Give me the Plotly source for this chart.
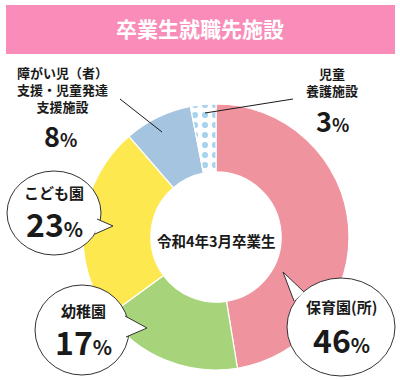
import plotly.graph_objects as go

# ---- data ----
categories = ["保育園(所)", "幼稚園", "こども園", "障がい児（者）支援・児童発達支援施設", "児童養護施設"]
values = [46, 17, 23, 8, 3]
title_text = "卒業生就職先施設"
center_text = "令和4年3月卒業生"

colors = ["#EF939F", "#A7D47B", "#FDE84F", "#A4C4DF", "#FFFFFF"]
patterns = ["", "", "", "", "."]

W, H = 400, 380
FONT = "Noto Sans CJK JP"
INK = "#1a1a1a"


def px(x):
    return x / W


def py(y):
    return 1 - y / H


cx, cy, R = 216, 237, 133

fig = go.Figure()
fig.add_trace(go.Pie(
    labels=categories,
    values=values,
    sort=False,
    direction="clockwise",
    rotation=0,
    hole=0.49,
    marker=dict(
        colors=colors,
        line=dict(color="white", width=1.2),
        pattern=dict(shape=patterns, fgcolor="#4FA8E0", bgcolor="white",
                     size=10, solidity=0.3, fillmode="overlay"),
    ),
    textinfo="none",
    hoverinfo="label+value",
    showlegend=False,
    domain=dict(x=[px(cx - R), px(cx + R)], y=[py(cy + R), py(cy - R)]),
))

shapes = []
annotations = []


def label(text, x, y, size, color=INK):
    annotations.append(dict(text=text, x=px(x), y=py(y), xref="paper", yref="paper",
                            xanchor="center", yanchor="middle",
                            showarrow=False, font=dict(family=FONT, size=size, color=color)))


# title banner
shapes.append(dict(type="rect", xref="paper", yref="paper",
                   x0=px(6), x1=px(395), y0=py(54), y1=py(5),
                   fillcolor="#F98CB9", line=dict(width=0), layer="below"))
label(f"<b>{title_text}</b>", 200, 28, 21, "white")

# center text
label(f"<b>{center_text}</b>", cx, 240, 14.5)


def pct(v, small):
    return f"<b>{v}<span style='font-size:{small}px'>%</span></b>"


def bubble(bx, by, rx, ry, a, tip, b):
    shapes.append(dict(type="circle", xref="paper", yref="paper",
                       x0=px(bx - rx), x1=px(bx + rx), y0=py(by + ry), y1=py(by - ry),
                       fillcolor="white", line=dict(color="#333333", width=1)))
    path = (f"M {px(a[0])},{py(a[1])} L {px(tip[0])},{py(tip[1])} "
            f"L {px(b[0])},{py(b[1])}")
    shapes.append(dict(type="path", xref="paper", yref="paper", path=path,
                       fillcolor="white", line=dict(color="#333333", width=1)))


# こども園 bubble
bubble(54, 213, 47, 42, (97, 219), (113, 226), (95, 234))
label(f"<b>{categories[2]}</b>", 54, 192, 15)
label(pct(values[2], 20), 54, 223, 32)

# 幼稚園 bubble
bubble(82, 330, 47, 45, (125, 316), (147, 328), (126, 337))
label(f"<b>{categories[1]}</b>", 83, 310, 15)
label(pct(values[1], 20), 83, 341, 32)

# 保育園 bubble
bubble(341, 327, 54, 49, (304, 292), (283, 272), (294, 301))
label(f"<b>{categories[0]}</b>", 341, 306, 15)
label(pct(values[0], 20), 341, 339, 32)

# 障がい児 outside label
label("<b>障がい児（者）<br>支援・児童発達<br>支援施設</b>", 62, 90, 13)
label(pct(values[3], 18), 60, 135, 27)
shapes.append(dict(type="line", xref="paper", yref="paper",
                   x0=px(120), y0=py(99), x1=px(162), y1=py(132),
                   line=dict(color=INK, width=1)))

# 児童養護施設 outside label
label("<b>児童<br>養護施設</b>", 332, 82, 13)
label(pct(values[4], 18), 332, 120, 27)
shapes.append(dict(type="line", xref="paper", yref="paper",
                   x0=px(293), y0=py(99), x1=px(205), y1=py(113),
                   line=dict(color=INK, width=1)))

fig.update_layout(
    width=W, height=H,
    margin=dict(l=0, r=0, t=0, b=0),
    paper_bgcolor="white",
    plot_bgcolor="white",
    shapes=shapes,
    annotations=annotations,
    font=dict(family=FONT),
)

fig.write_html("out.html", config={"displayModeBar": False},
               post_script="document.body.style.margin='0';")
